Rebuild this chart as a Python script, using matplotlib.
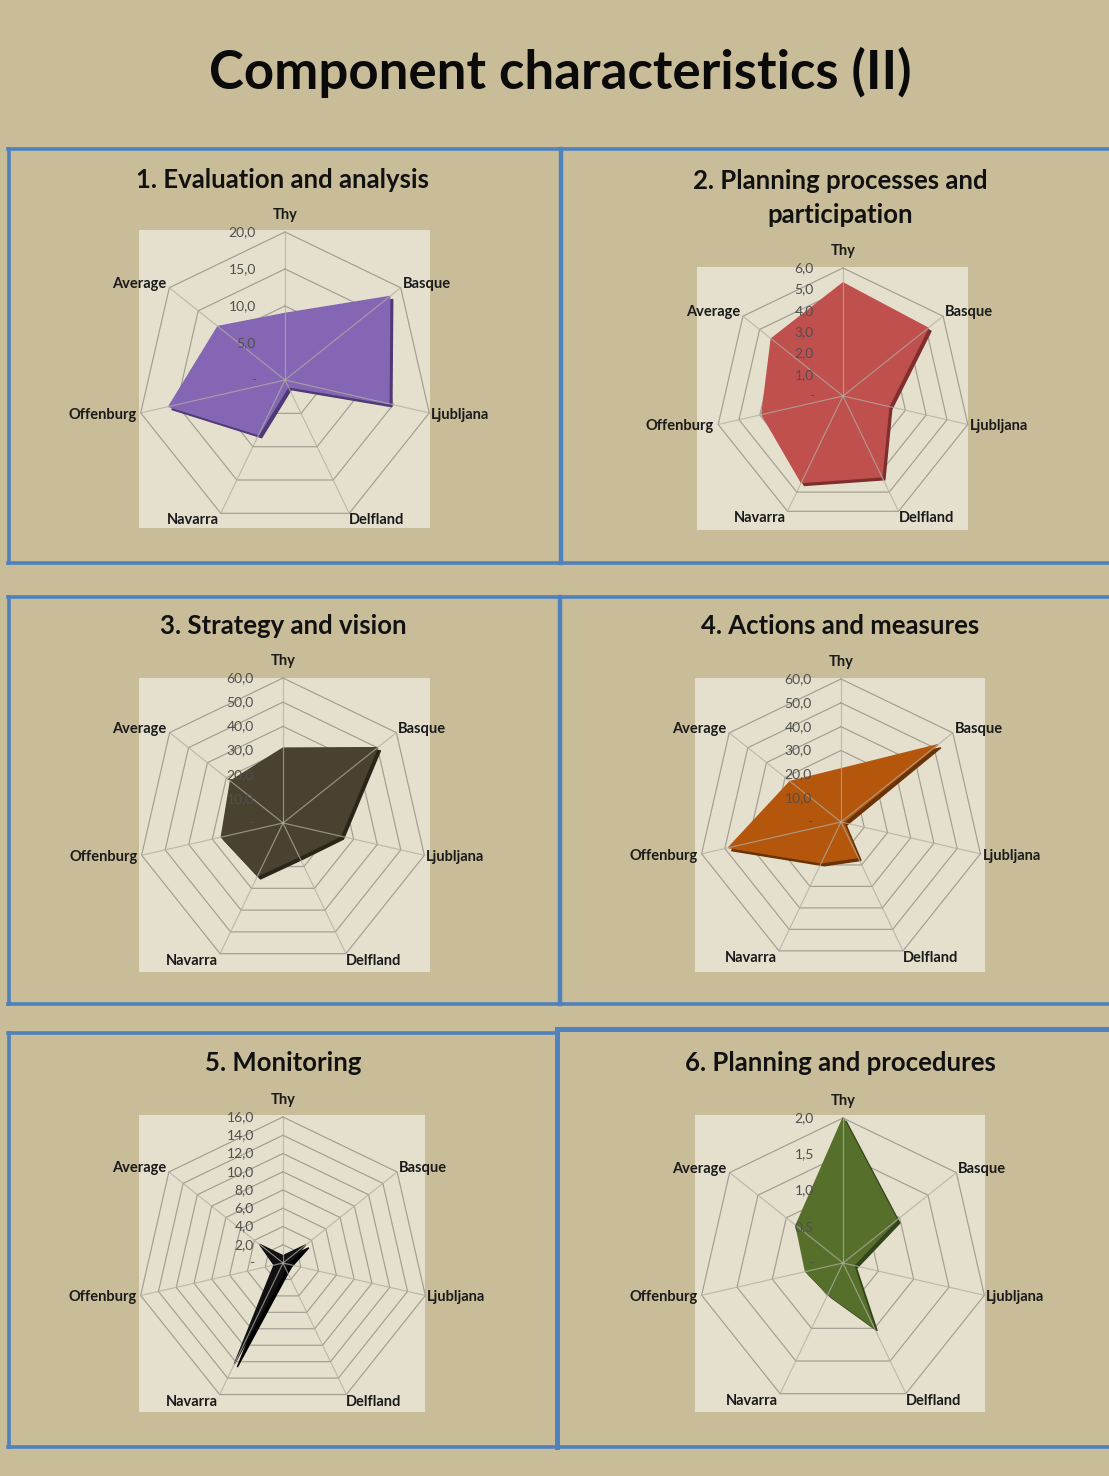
import numpy as np
import matplotlib
matplotlib.use("Agg")
import matplotlib.pyplot as plt
from matplotlib.patches import Rectangle
from matplotlib.lines import Line2D
from matplotlib.transforms import offset_copy

plt.rcParams['font.family'] = ['Lato', 'DejaVu Sans']

# ---------------- data ----------------
categories = ["Thy", "Basque", "Ljubljana", "Delfland", "Navarra", "Offenburg", "Average"]

panel_titles = ["1. Evaluation and analysis",
                "2. Planning processes and\nparticipation",
                "3. Strategy and vision",
                "4. Actions and measures",
                "5. Monitoring",
                "6. Planning and procedures"]

eval_analysis = [9.0, 18.1, 14.4, 1.0, 8.2, 16.1, 11.6]
planning_participation = [5.3, 5.1, 2.2, 4.2, 4.5, 3.9, 4.3]
strategy_vision = [31.0, 50.0, 24.4, 15.4, 24.3, 26.2, 27.8]
actions_measures = [22.3, 52.0, 1.0, 16.5, 19.0, 48.4, 27.3]
monitoring = [0.8, 3.2, 0.6, 0.7, 12.3, 1.0, 3.3]
planning_procedures = [2.0, 0.95, 0.15, 0.99, 0.48, 0.53, 0.83]

ticks_1 = [0, 5, 10, 15, 20]
ticks_2 = [0, 1, 2, 3, 4, 5, 6]
ticks_3 = [0, 10, 20, 30, 40, 50, 60]
ticks_4 = [0, 10, 20, 30, 40, 50, 60]
ticks_5 = [0, 2, 4, 6, 8, 10, 12, 14, 16]
ticks_6 = [0, 0.5, 1.0, 1.5, 2.0]

series = [eval_analysis, planning_participation, strategy_vision,
          actions_measures, monitoring, planning_procedures]
ticks = [ticks_1, ticks_2, ticks_3, ticks_4, ticks_5, ticks_6]

# ---------------- styling / layout ----------------
W, H = 1109, 1476
BG = "#c8bd98"
PLOT_BG = "#e4e0cd"
BLUE = "#4f81bd"
fill_colors = ["#8466b4", "#c0504d", "#4a4230", "#b4560c", "#111111", "#56702c"]
shadow_colors = ["#4e3a75", "#7e2f2d", "#2a2519", "#6a3306", "#000000", "#33441a"]

# center x, center y, radius (px)
geom = [(285, 380, 148), (843, 396, 128), (283, 823, 145),
        (841, 822, 143), (283, 1263, 146), (843, 1263, 145)]
# plot-area rectangles (x0, y0, x1, y1) px
plot_rects = [(139, 230, 430, 528), (697, 267, 968, 530), (139, 678, 430, 972),
              (695, 678, 985, 972), (139, 1115, 425, 1412), (695, 1115, 985, 1412)]
title_pos = [(283, 180), (840, 198), (283, 626), (840, 626), (283, 1063), (840, 1063)]

fig = plt.figure(figsize=(W / 100, H / 100), dpi=100)
fig.patch.set_facecolor(BG)


def fx(x):
    return x / W


def fy(y):
    return 1 - y / H


fig.text(fx(560), fy(72), "Component characteristics (II)", ha="center", va="center",
         fontsize=38, fontweight="bold", color="#0a0a0a")

# panel borders
def hline(y, x0, x1, lw=2.6):
    fig.add_artist(Line2D([fx(x0), fx(x1)], [fy(y), fy(y)], color=BLUE, lw=lw, zorder=3))


def vline(x, y0, y1, lw=2.6):
    fig.add_artist(Line2D([fx(x), fx(x)], [fy(y0), fy(y1)], color=BLUE, lw=lw, zorder=3))


hline(149, 8, 1109)
hline(563, 8, 1109)
vline(9, 149, 563)
vline(561, 149, 563, lw=3.2)
hline(597, 8, 1109)
hline(1004, 8, 1109)
vline(9, 597, 1004)
vline(560, 597, 1004, lw=3.2)
hline(1033, 8, 557)
hline(1029, 557, 1109, lw=3.6)
hline(1447, 8, 1109)
vline(9, 1033, 1447)
vline(557, 1029, 1447, lw=3.6)

n = len(categories)
angles = np.linspace(0, 2 * np.pi, n, endpoint=False)
ang_closed = np.concatenate([angles, angles[:1]])

# label placement (px offsets, ha)
lab_cfg = [((0, 17), "center"), ((2, 4), "left"), ((2, -2), "left"),
           ((0, -7), "left"), ((-2, -7), "right"), ((-4, -2), "right"),
           ((-3, 4), "right")]

for i in range(6):
    cx, cy, R = geom[i]
    x0, y0, x1, y1 = plot_rects[i]
    fig.add_artist(Rectangle((fx(x0), fy(y1)), fx(x1) - fx(x0), fy(y0) - fy(y1),
                             facecolor=PLOT_BG, edgecolor="none", zorder=-5))
    tx, ty = title_pos[i]
    fig.text(fx(tx), fy(ty), panel_titles[i], ha="center", va="center",
             fontsize=18.5, fontweight="bold", color="#111111", linespacing=1.5)

    ax = fig.add_axes([fx(cx - R), fy(cy + R), 2 * R / W, 2 * R / H], projection="polar")
    ax.set_zorder(1)
    ax.set_theta_offset(np.pi / 2)
    ax.set_theta_direction(-1)
    tk = ticks[i]
    rmax = tk[-1]
    ax.set_ylim(0, rmax)
    ax.axis("off")

    # rings
    for t in tk[1:]:
        ax.plot(ang_closed, [t] * (n + 1), color="#a29e92", lw=0.85, zorder=1, clip_on=False)
    # data polygon with shadow
    vals = list(series[i])
    vc = vals + vals[:1]
    sh = offset_copy(ax.transData, fig=fig, x=3, y=-3, units="dots")
    ax.fill(ang_closed, vc, color=shadow_colors[i], zorder=2, transform=sh, clip_on=False)
    ax.fill(ang_closed, vc, color=fill_colors[i], zorder=2.5, clip_on=False)
    # spokes
    for a in angles:
        ax.plot([a, a], [0, rmax], color="#b0ada2", lw=0.85, zorder=3, alpha=0.75, clip_on=False)
    # tick labels
    for t in tk:
        lab = "-" if t == 0 else f"{t:.1f}".replace(".", ",")
        ax.annotate(lab, xy=(0, t), xytext=(-21, 0), textcoords="offset points",
                    ha="right", va="center", fontsize=10, color="#4f4f4f",
                    zorder=5, annotation_clip=False)
    # category labels
    for k, a in enumerate(angles):
        (dx, dy), ha = lab_cfg[k]
        ax.annotate(categories[k], xy=(a, rmax), xytext=(dx * 0.72, dy * 0.72),
                    textcoords="offset points", ha=ha, va="center",
                    fontsize=10.5, fontweight="bold", color="#1a1a1a",
                    annotation_clip=False, zorder=5)

fig.savefig("out.png", dpi=100, facecolor=BG)
